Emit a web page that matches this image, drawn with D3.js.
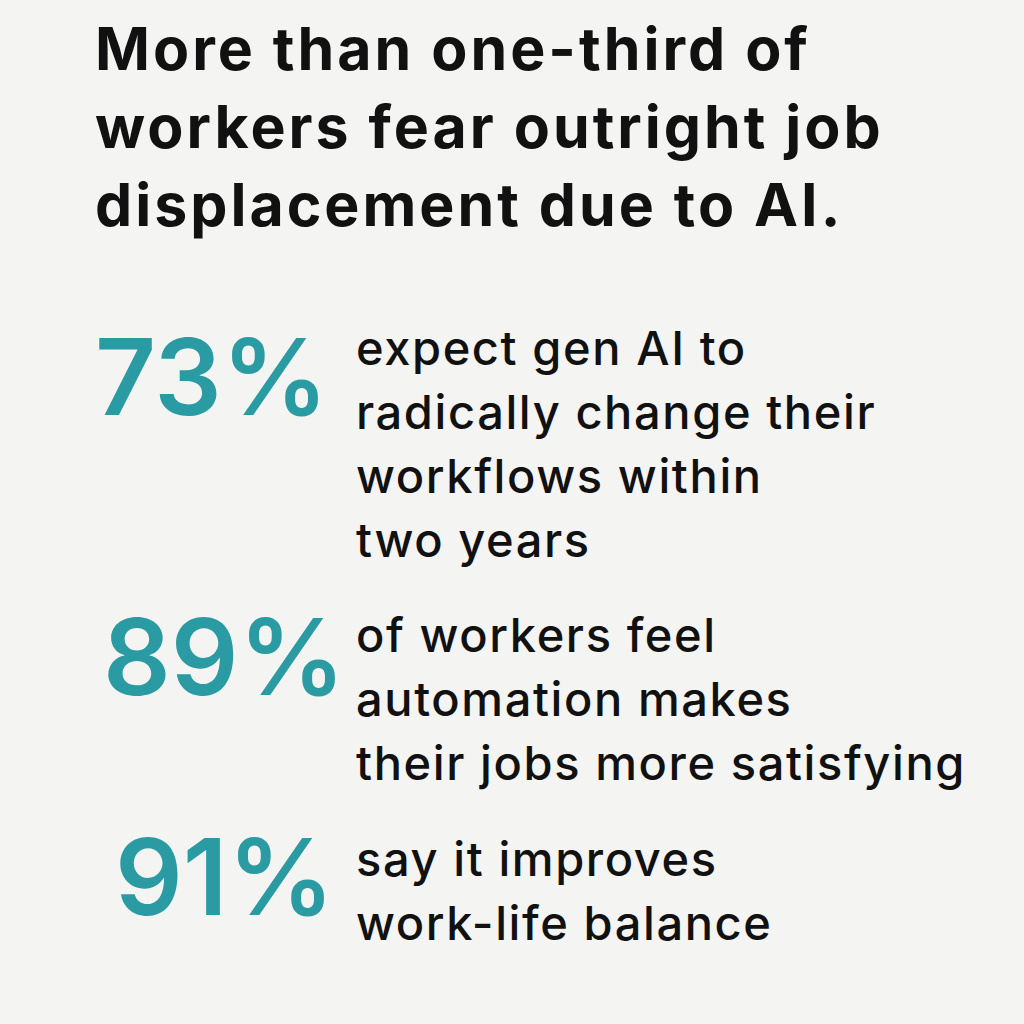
<!DOCTYPE html>
<html><head><meta charset="utf-8">
<script src="https://cdn.jsdelivr.net/npm/d3@7"></script>
<style>body{margin:0;background:#f4f4f3}</style>
</head><body><svg id="chart" width="1024" height="1024"></svg>
<script>
const titleLines = ['More than one-third of', 'workers fear outright job', 'displacement due to AI.'];
const statValues = [73, 89, 91];
const statLines = [
  ['expect gen AI to', 'radically change their', 'workflows within', 'two years'],
  ['of workers feel', 'automation makes', 'their jobs more satisfying'],
  ['say it improves', 'work-life balance']
];
// first text baseline of each block, and baseline of the big number
const blockTop = [365, 652, 876];
const numberBase = [415, 695, 915];
const numberX = [95, 103, 115];

const svg = d3.select('#chart');
svg.append('rect').attr('width', 1024).attr('height', 1024).style('fill', '#f4f4f3');

const titleY = d3.scaleLinear().domain([0, 1]).range([70, 148]);
svg.append('g').selectAll('text').data(titleLines).join('text')
  .attr('x', 95).attr('y', (d, i) => titleY(i))
  .style('font-family', 'Inter, sans-serif').style('font-weight', 700)
  .style('font-size', '59px').style('letter-spacing', '3px')
  .style('fill', '#111').text(d => d);

const lineY = d3.scaleLinear().domain([0, 1]).range([0, 64]);
statValues.forEach((v, k) => {
  svg.append('text')
    .attr('x', numberX[k]).attr('y', numberBase[k])
    .style('font-family', 'Inter, sans-serif').style('font-weight', 600)
    .style('font-size', '106px').style('fill', '#2a9ba3')
    .text(v + '%');
  svg.append('g').selectAll('text').data(statLines[k]).join('text')
    .attr('x', 356).attr('y', (d, i) => blockTop[k] + lineY(i))
    .style('font-family', 'Inter, sans-serif').style('font-weight', 500)
    .style('font-size', '47px').style('letter-spacing', '1.6px')
    .style('fill', '#111').text(d => d);
});
</script></body></html>
